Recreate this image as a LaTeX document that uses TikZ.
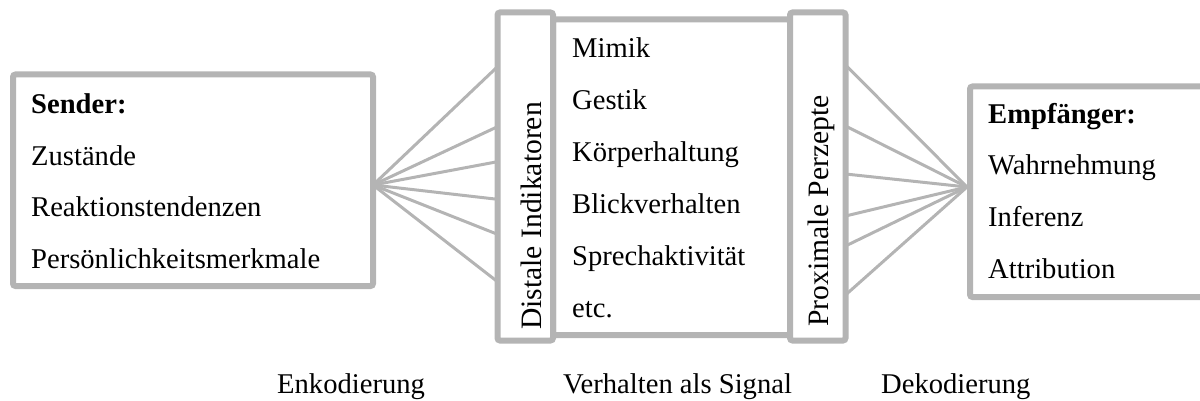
\documentclass[tikz,border=0pt]{standalone}
\usepackage{fontspec}
\setmainfont{Liberation Serif}
\definecolor{lg}{RGB}{180,180,180}
\begin{document}
\begin{tikzpicture}[x=1pt,y=-1pt,
  box/.style={draw=lg, line width=6pt, rounded corners=2.5pt, fill=white, inner sep=0pt},
  fanline/.style={draw=lg, line width=3pt},
  txt/.style={anchor=base west, inner sep=0pt, font=\fontsize{28.6}{34}\selectfont},
  rtxt/.style={anchor=base, inner sep=0pt, rotate=90, font=\fontsize{29.6}{34}\selectfont}]
\useasboundingbox (0,0) rectangle (1200,401);
% boxes
\node[box, minimum width=360pt, minimum height=211.5pt] (sender) at (193,180.25) {};
\node[box, minimum width=237pt, minimum height=315.5pt] (mid) at (671.5,177.25) {};
\node[box, minimum width=55.5pt, minimum height=328pt] (dist) at (525.25,176.5) {};
\node[box, minimum width=55.5pt, minimum height=328pt] (prox) at (817.75,176.5) {};
\node[box, minimum width=236pt, minimum height=210.5pt] (recv) at (1088,191.75) {};
% fan anchor points
\coordinate (so) at (373,185);
\coordinate (l1) at (497.5,66.7);
\coordinate (l2) at (497.5,126.7);
\coordinate (l3) at (497.5,161.7);
\coordinate (l4) at (497.5,199.3);
\coordinate (l5) at (497.5,234.3);
\coordinate (l6) at (497.5,281.7);
\coordinate (ro) at (967,187);
\coordinate (r1) at (845.5,65);
\coordinate (r2) at (845.5,126);
\coordinate (r3) at (845.5,174);
\coordinate (r4) at (845.5,216);
\coordinate (r5) at (845.5,246);
\coordinate (r6) at (845.5,295);
\foreach \i in {1,...,6} {
  \draw[fanline] (so) -- (l\i);
  \draw[fanline] (r\i) -- (ro);
}
% sender text
\node[txt] (s0) at (31,113.3) {\bfseries Sender:};
\node[txt] (s1) at (31,165) {Zustände};
\node[txt] (s2) at (31,216.7) {Reaktionstendenzen};
\node[txt] (s3) at (31,268.3) {Persönlichkeitsmerkmale};
% middle text
\node[txt] (m1) at (572,58) {Mimik};
\node[txt] (m2) at (572,110) {Gestik};
\node[txt] (m3) at (572,162) {Körperhaltung};
\node[txt] (m4) at (572,213.5) {Blickverhalten};
\node[txt] (m5) at (572,265) {Sprechaktivität};
\node[txt] (m6) at (572,317) {etc.};
% receiver text
\node[txt] (e0) at (988,123.3) {\bfseries Empfänger:};
\node[txt] (e1) at (988,174.5) {Wahrnehmung};
\node[txt] (e2) at (988,226.7) {Inferenz};
\node[txt] (e3) at (988,278.3) {Attribution};
% rotated labels
\node[rtxt] (dl) at (541,216) {Distale Indikatoren};
\node[rtxt] (pl) at (828,211) {Proximale Perzepte};
% bottom labels
\node[txt] (b1) at (277,393) {Enkodierung};
\node[txt] (b2) at (563,393) {Verhalten als Signal};
\node[txt] (b3) at (881,393) {Dekodierung};
\end{tikzpicture}
\end{document}
